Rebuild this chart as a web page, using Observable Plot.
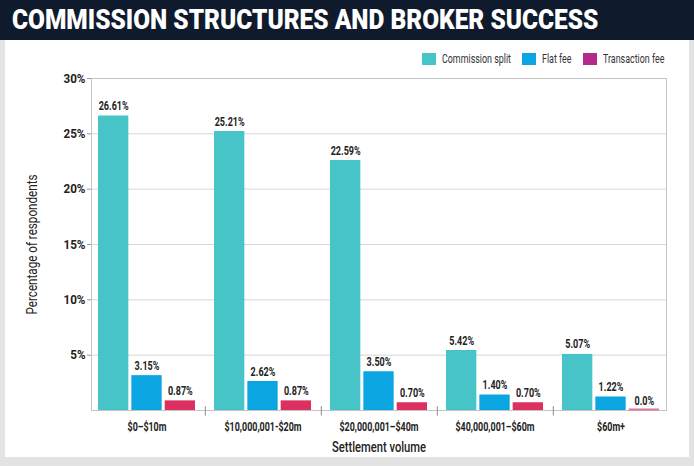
<!DOCTYPE html>
<html>
<head>
<meta charset="utf-8">
<script src="https://cdn.jsdelivr.net/npm/d3@7"></script>
<script src="https://cdn.jsdelivr.net/npm/@observablehq/plot@0.6"></script>
<style>
  html, body { margin: 0; padding: 0; }
  body {
    width: 694px; height: 466px; background: #e3e3e3; position: relative; overflow: hidden;
    font-family: Roboto, "Open Sans", sans-serif;
  }
  #header { position: absolute; left: 0; top: 0; width: 694px; height: 40px; background: #0f1b2c; }
  #title {
    position: absolute; left: 12px; top: 2px; color: #fff; font-size: 28px; font-weight: 900;
    white-space: nowrap; transform-origin: 0 50%; line-height: 36px; display: inline-block;
  }
  #panel { position: absolute; left: 5px; top: 40px; width: 684px; height: 417px; background: #fff; }
  #legend {
    position: absolute; top: 12px; right: 25px; display: flex; align-items: center; gap: 11px;
    font-size: 13.5px; color: #333; line-height: 13px;
  }
  .item { display: flex; align-items: center; gap: 6px; }
  .sw { width: 14px; height: 12px; display: inline-block; }
  .lt { display: inline-block; white-space: nowrap; overflow: visible; }
  .lt span { display: inline-block; transform-origin: 0 50%; white-space: nowrap; }
  #chart { position: absolute; left: 0; top: 0; }
  #chart svg g[aria-label="y-axis label"] text { font-size: 14.5px; font-weight: 400; fill: #222; }
  #chart svg g[aria-label="x-axis label"] text { font-size: 15.5px; font-weight: 500; fill: #222; }
</style>
</head>
<body>
<div id="header"><div id="title">COMMISSION STRUCTURES AND BROKER SUCCESS</div></div>
<div id="panel">
  <div id="chart"></div>
  <div id="legend"></div>
</div>
<script>
// ---- data ----
const categories = ["$0–$10m", "$10,000,001-$20m", "$20,000,001–$40m", "$40,000,001–$60m", "$60m+"];
const seriesNames = ["Commission split", "Flat fee", "Transaction fee"];
const commissionSplit = [26.61, 25.21, 22.59, 5.42, 5.07];
const flatFee = [3.15, 2.62, 3.50, 1.40, 1.22];
const transactionFee = [0.87, 0.87, 0.70, 0.70, 0.0];
const yTicks = [5, 10, 15, 20, 25, 30];
const barColors = ["#46c4c8", "#0ba6e1", "#dc3160"];
const legendColors = ["#46c4c8", "#0ba6e1", "#b5298c"];

// ---- layout ----
const W = 684, H = 417;
const mL = 86, mR = 23, mT = 38, mB = 47;
const padIn = 0.168, padOut = 0.05;
const band = d3.scaleBand().domain(categories).range([mL, W - mR]).paddingInner(padIn).paddingOuter(padOut);
const bw = band.bandwidth();
const step = band.step();
const gap = 3;
const barW = (bw - 2 * gap) / 3;
const insL = i => i * (barW + gap);
const insR = i => (2 - i) * (barW + gap);
const centerOff = i => insL(i) + barW / 2 - bw / 2;

const seriesValues = [commissionSplit, flatFee, transactionFee];
const rows = seriesNames.flatMap((s, i) => categories.map((c, j) => ({category: c, series: s, si: i, value: seriesValues[i][j]})));
const fmt = v => v === 0 ? "0.0%" : v.toFixed(2) + "%";

const chart = Plot.plot({
  width: W, height: H,
  marginLeft: mL, marginRight: mR, marginTop: mT, marginBottom: mB,
  style: {fontFamily: "Roboto, sans-serif", background: "transparent", color: "#222"},
  x: {domain: categories, paddingInner: padIn, paddingOuter: padOut},
  y: {domain: [0, 30]},
  marks: [
    Plot.gridY(yTicks, {stroke: "#d6d6d6", strokeOpacity: 1}),
    Plot.frame({stroke: "#c4c4c4"}),
    ...seriesNames.map((s, i) => Plot.barY(rows.filter(d => d.si === i && d.value > 0), {
      x: "category", y: "value", fill: barColors[i], insetLeft: insL(i), insetRight: insR(i)
    })),
    Plot.tickY(rows.filter(d => d.value === 0), {
      x: "category", y: "value", stroke: "#d9799c", strokeWidth: 2, dy: -1,
      insetLeft: insL(2), insetRight: insR(2)
    }),
    ...seriesNames.map((s, i) => Plot.text(rows.filter(d => d.si === i), {
      x: "category", y: "value", text: d => fmt(d.value), dx: centerOff(i), dy: -10,
      fontSize: 12.5, fontWeight: 700, fill: "#222"
    })),
    Plot.ruleX(categories.slice(0, -1), {x: d => d, y1: 0.35, y2: -0.5, dx: step / 2, stroke: "#8a8a8a"}),
    Plot.axisY(yTicks, {
      tickFormat: d => d + "%", tickSize: 4, tickPadding: 2, stroke: "#999",
      fontSize: 13.5, fontWeight: 700, fill: "#222",
      label: "Percentage of respondents", labelAnchor: "center", labelArrow: "none", labelOffset: 65
    }),
    Plot.axisX({
      tickSize: 0, tickPadding: 12, fontSize: 12.5, fontWeight: 700, fill: "#222",
      label: "Settlement volume", labelAnchor: "center", labelArrow: "none", labelOffset: 41
    })
  ]
});
document.getElementById("chart").appendChild(chart);

// condensed-type emulation: squeeze each text group so a reference string has the reference width
function squeeze(sel, repText, targetW) {
  const nodes = Array.from(chart.querySelectorAll(sel));
  if (!nodes.length) return;
  const rep = nodes.find(n => n.textContent === repText) || nodes[0];
  const k = targetW / rep.getComputedTextLength();
  nodes.forEach(n => {
    const w = n.getComputedTextLength();
    n.setAttribute("textLength", (w * k).toFixed(2));
    n.setAttribute("lengthAdjust", "spacingAndGlyphs");
  });
}
squeeze('g[aria-label="y-axis tick label"] text', "30%", 22);
squeeze('g[aria-label="x-axis tick label"] text', "$10,000,001-$20m", 77);
squeeze('g[aria-label="y-axis label"] text', "Percentage of respondents", 140);
squeeze('g[aria-label="x-axis label"] text', "Settlement volume", 94);
squeeze('g[aria-label="text"] text', "26.61%", 30);

// title fit
const title = document.getElementById("title");
title.style.transform = `scaleX(${586 / title.offsetWidth})`;

// legend
const lg = document.getElementById("legend");
seriesNames.forEach((s, i) => {
  const it = document.createElement("div");
  it.className = "item";
  it.innerHTML = `<span class="sw" style="background:${legendColors[i]}"></span><span class="lt"><span>${s}</span></span>`;
  lg.appendChild(it);
});
const inner = Array.from(lg.querySelectorAll(".lt span"));
const kL = 69 / inner[0].getBoundingClientRect().width;
inner.forEach(sp => {
  const w = sp.getBoundingClientRect().width;
  sp.parentNode.style.width = (w * kL) + "px";
  sp.style.transform = `scaleX(${kL})`;
});
</script>
</body>
</html>
